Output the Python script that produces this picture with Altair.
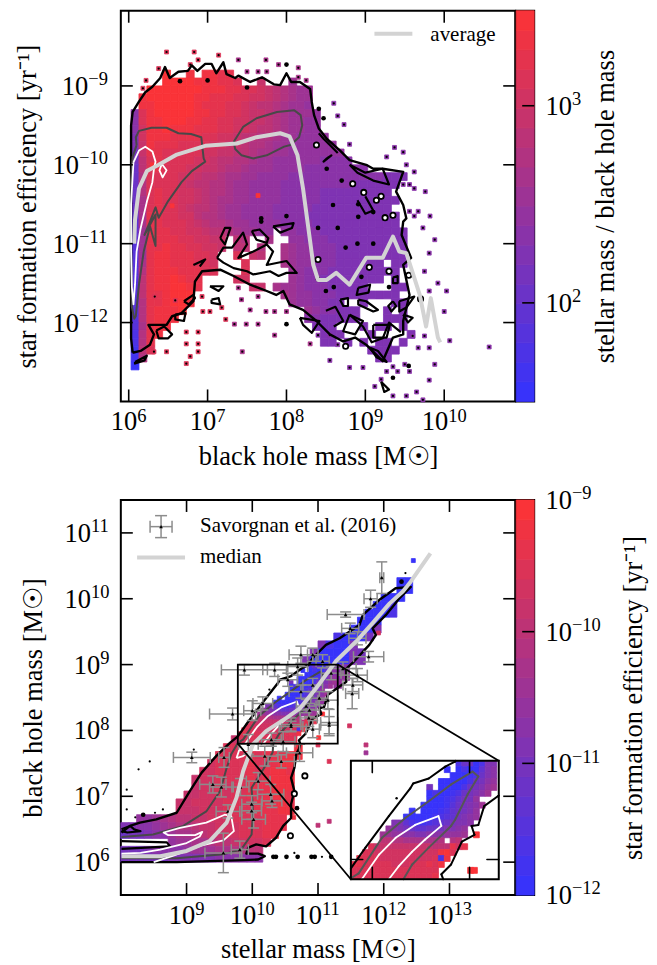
import altair as alt
import pandas as pd

alt.data_transformers.disable_max_rows()

FONT = "Liberation Serif"
LEV = "abcdefghijklmnopqrst"

# ---------- panel 1: cells, one string per row, x origin 6.03, step 0.1 dex, rows from -8.7 down
SFE_ROWS = [
 "",
 "....t..s.ssrr",
 "....ttttsssrrq..o...k",
 "..tttttttsssrrqqponmlkk",
 ".sttttttssrrrqqpponmlkk",
 ".sstttttsrrrqqponnmlkkj",
 "iqstttttssrrqqpoonmlkkkj",
 "iqsstttssrrqqppoonmlkkjj",
 "ipsstsssrrrqqpponnmlkkjj",
 "hpsssrrrrqqpponnmmlkkjjjj",
 "hosrrrqqqqppoonmmlkkjjjjjj",
 "gorrqqqqqppoonnmllkkjjjjjjj",
 "gnqrqqqqpponnmmlkkjjjjjjiiii",
 "fnqrqqqppoonmmlkkkjjjjiiiiiiii",
 "fmqqqqpponnmllkkjjjjiiiiiiiiiiiihhh",
 "fmqqqqponnmmlkkjjjjiiiiiiiiihhhhhh",
 "fmqrqqpponmmlkkjjjjiiiiihhhhhhhhh",
 "flqrqqpponmllkkjjjjiiiiihhhhhhhhhh",
 "flqrqqponnmlkkjjjjiiiiihhhhhhhhhh",
 "elrrqqppnmmlkkjjjjiiiihhhhhhhhhhhh",
 "elrrqqqponmmlkkjjjjiiiihhhhhhhhhhh",
 "ekrrrqqpponnmlkkjj.jjiiihhhhhhhhhhh",
 "ekrrrrqqppoo.nm..l..jjiiihhhhhhhhhh",
 "dkrrsrrqqppo.nn.m..lkjjiiihhhhhhhhh",
 "dkrssrrrqqp..q.on..lkjjiiihhhhhhhhh",
 "dlrssrrrqqp...q....lkjjiiihhhhhh.hh",
 "dmrsssrrrqq...q.....kjiiihhhhhhhhh",
 "dnrsstsrr....pp.....kjiihhhhhhhh.h",
 "dnrssttsr......oo.lkkjiiihhhhh...hh",
 "dnrrsttt...........lkjjiiihhhhhhhh",
 "dmrrstts............kjjiihh..h...hh",
 "dmrssst...............kjiihhh...h.h",
 "dmrsss................iihhhhh...hhh",
 "dlrss..................hhh...h.hh.h",
 "cmrs....................hhh...h....h",
 "cmr.....................hh.h.h.hh.h",
 "bnq...........................hhhh",
 "bm.............................hh",
 "a",
]
# black contour of the populated region, (log M_BH, log SFE)
P1_OUTER = [(6.05,-12.38),(6.03,-12.2),(6.03,-11.5),(6.03,-10.5),(6.03,-9.75),(6.03,-9.5),(6.05,-9.33),(6.13,-9.2),(6.21,-9.08),(6.3,-9.01),(6.4,-8.9),(6.46,-8.76),(6.52,-8.9),(6.63,-8.82),(6.75,-8.81),(6.8,-8.74),(6.87,-8.81),(6.97,-8.72),(7.05,-8.72),(7.11,-8.84),(7.2,-8.7),(7.24,-8.85),(7.35,-8.9),(7.39,-8.87),(7.54,-8.95),(7.69,-8.89),(7.84,-8.98),(7.92,-8.99),(8.0,-8.84),(8.06,-8.95),(8.17,-8.95),(8.3,-9.04),(8.32,-9.2),(8.35,-9.37),(8.41,-9.54),(8.51,-9.67),(8.68,-9.82),(8.8,-9.94),(9.01,-10.0),(9.1,-10.05),(9.22,-10.05),(9.48,-10.09),(9.39,-10.34),(9.48,-10.51),(9.52,-10.68),(9.48,-10.72),(9.46,-10.89),(9.58,-11.18),(9.48,-11.27),(9.56,-11.65),(9.48,-11.98),(9.48,-12.15),(9.35,-12.19),(9.22,-12.49),(9.01,-12.28),(8.87,-12.19),(8.72,-12.24),(8.55,-12.15),(8.38,-11.98),(8.21,-11.84),(8.04,-11.77),(7.96,-11.6),(7.87,-11.65),(7.75,-11.6),(7.54,-11.52),(7.33,-11.41),(7.16,-11.33),(6.93,-11.35),(6.84,-11.48),(6.82,-11.73),(6.67,-11.88),(6.55,-11.92),(6.48,-12.03),(6.25,-12.03),(6.32,-12.15),(6.27,-12.28),(6.15,-12.36),(6.06,-12.38),(6.05,-12.38)]
P1_HOLES = [
 [(7.16,-10.93),(7.22,-10.8),(7.29,-10.8),(7.26,-10.89),(7.22,-11.01),(7.16,-10.93)],
 [(7.12,-11.18),(7.2,-11.05),(7.31,-11.05),(7.45,-10.86),(7.5,-11.01),(7.39,-11.18),(7.58,-11.1),(7.75,-11.01),(7.83,-11.1),(7.75,-11.27),(8.0,-11.22),(8.13,-11.37),(8.0,-11.37),(7.9,-11.41),(7.79,-11.35),(7.58,-11.39),(7.5,-11.35),(7.33,-11.31),(7.2,-11.24),(7.12,-11.18)],
 [(7.56,-10.84),(7.66,-10.82),(7.77,-10.93),(7.75,-10.99),(7.62,-10.95),(7.56,-10.84)],
 [(7.83,-10.78),(8.09,-10.74),(8.07,-10.8),(7.92,-10.86),(7.83,-10.78)],
 [(6.35,-12.1),(6.45,-12.05),(6.55,-12.15),(6.5,-12.2),(6.38,-12.2),(6.35,-12.1)],
 [(6.08,-12.5),(6.23,-12.42),(6.2,-12.48),(6.08,-12.52),(6.08,-12.5)],
 [(6.7,-11.73),(6.82,-11.65),(6.84,-11.69),(6.76,-11.77),(6.7,-11.73)],
 [(6.82,-11.27),(6.97,-11.2),(6.9,-11.29)],
 [(7.03,-11.54),(7.2,-11.54),(7.14,-11.6),(7.03,-11.54)],
 [(7.05,-11.71),(7.14,-11.69),(7.16,-11.77),(7.05,-11.75),(7.05,-11.71)],
 [(6.59,-11.9),(6.72,-11.88),(6.7,-11.98),(6.59,-11.96),(6.59,-11.9)],
 [(8.91,-11.56),(9.06,-11.52),(9.04,-11.62),(8.89,-11.65),(8.91,-11.56)],
 [(8.91,-11.71),(9.01,-11.73),(9.16,-11.84),(9.1,-11.86),(8.91,-11.77),(8.91,-11.71)],
 [(8.68,-11.71),(8.78,-11.69),(8.78,-11.79),(8.72,-11.79),(8.68,-11.71)],
 [(8.8,-11.9),(8.97,-11.98),(8.87,-12.15),(8.72,-12.11),(8.8,-11.9)],
 [(9.1,-12.03),(9.31,-12.03),(9.27,-12.19),(9.1,-12.19),(9.1,-12.03)],
 [(9.43,-11.73),(9.62,-11.67),(9.52,-11.81),(9.43,-11.86),(9.43,-11.73)],
 [(9.48,-11.9),(9.6,-11.94),(9.54,-12.0),(9.48,-11.9)],
 [(9.35,-11.43),(9.41,-11.41),(9.41,-11.5),(9.35,-11.5),(9.35,-11.43)],
 [(8.17,-11.94),(8.42,-11.98),(8.32,-12.13),(8.21,-12.03),(8.17,-11.94)],
 [(9.35,-11.73),(9.39,-11.79),(9.33,-11.86),(9.29,-11.79),(9.35,-11.73)],
 [(8.51,-9.92),(8.57,-9.88),(8.47,-9.96),(8.51,-9.92)],
 [(8.8,-10.0),(9.0,-10.1),(9.22,-10.05),(9.3,-10.25),(9.1,-10.2),(8.9,-10.1),(8.8,-10.0)],
 [(8.8,-11.9),(8.97,-12.05),(9.08,-12.25),(9.22,-12.2),(9.3,-12.0),(9.45,-12.12)],
 [(8.5,-11.85),(8.62,-11.8),(8.72,-11.98),(8.6,-12.05)],
 [(9.06,-12.32),(9.16,-12.36),(9.27,-12.5),(9.14,-12.44),(9.06,-12.32)],
 [(8.41,-9.6),(8.47,-9.67),(8.55,-9.75),(8.65,-9.85)],
 [(8.9,-10.45),(9.0,-10.62),(9.1,-10.58),(9.0,-10.4)],
 [(9.2,-12.75),(9.3,-12.85),(9.24,-12.88),(9.2,-12.75)],
]
P1_RINGS = [(8.38,-9.75),(8.84,-10.24),(9.35,-10.64),(9.25,-10.67),(9.14,-10.45),(9.2,-10.4),(8.98,-10.35),(9.05,-11.3),(9.3,-11.35),(9.55,-11.4),(9.7,-11.7),(8.4,-11.2),(8.75,-12.3)]
P1_DARK = [[(6.1,-9.75),(6.09,-9.65),(6.13,-9.57),(6.29,-9.53),(6.48,-9.53),(6.63,-9.6),(6.79,-9.61),(6.92,-9.65),(6.95,-9.92),(6.97,-9.96),(6.8,-10.08),(6.67,-10.22),(6.5,-10.46),(6.38,-10.67),(6.34,-10.54),(6.27,-10.72),(6.2,-10.89),(6.34,-10.63),(6.34,-11.03),(6.27,-10.78),(6.19,-11.1),(6.13,-11.52),(6.09,-11.92),(6.07,-11.95),(6.04,-11.8),(6.03,-11.0),(6.03,-10.2),(6.05,-9.9),(6.1,-9.75)],
 [(7.33,-9.71),(7.45,-9.52),(7.62,-9.41),(7.88,-9.33),(8.1,-9.31),(8.18,-9.37),(8.2,-9.5),(8.16,-9.65),(8.05,-9.75),(7.97,-9.77),(7.75,-9.88),(7.58,-9.92),(7.43,-9.88),(7.35,-9.8),(7.33,-9.71)]]
P1_WHITE = [[(6.06,-9.97),(6.13,-9.82),(6.21,-9.77),(6.3,-9.83),(6.34,-9.96),(6.32,-10.05),(6.3,-10.22),(6.23,-10.47),(6.15,-10.81),(6.1,-11.1),(6.08,-11.52),(6.06,-11.77),(6.04,-11.55),(6.03,-11.08),(6.03,-10.5),(6.06,-9.97)],
 [(6.42,-9.99),(6.48,-10.07),(6.43,-10.16),(6.39,-10.07),(6.42,-9.99)]]
P1_AVG_X = [6.07,6.08,6.13,6.23,6.38,6.61,6.97,7.37,7.62,7.92,8.04,8.14,8.21,8.3,8.34,8.4,8.51,8.63,8.8,9.01,9.22,9.35,9.43,9.52,9.69,9.77,9.83,9.92,9.95]
P1_AVG_Y = [-11.0,-10.7,-10.3,-10.08,-10.0,-9.87,-9.76,-9.73,-9.65,-9.6,-9.64,-9.88,-10.3,-10.97,-11.27,-11.46,-11.46,-11.37,-11.52,-11.18,-11.18,-10.91,-11.1,-11.12,-11.65,-12.05,-11.69,-12.19,-12.25]
P1_DOTS_RED = [(6.33,-11.67),(6.59,-11.72),(6.73,-12.12),(6.88,-12.12),(6.73,-12.27),(6.88,-12.27),(6.78,-12.43),(6.88,-12.37),(6.73,-12.52),(6.48,-12.37),(6.32,-12.37),(6.93,-11.67),(7.03,-11.86),(6.94,-11.86),(7.18,-11.81),(7.23,-11.96),(6.48,-8.57),(6.83,-8.57),(7.14,-8.61),(6.88,-8.67),(6.38,-8.78),(6.78,-8.73),(6.22,-8.93),(6.18,-9.03)]
P1_DOTS_MID = [(7.34,-12.02),(7.49,-12.02),(7.64,-12.02),(7.44,-12.37),(7.85,-12.16),(7.74,-11.86),(7.85,-11.86),(8.0,-11.86),(7.54,-11.84),(7.43,-11.71),(7.39,-11.56),(7.64,-11.67),(8.3,-12.27),(7.39,-8.67),(7.74,-8.67),(7.9,-8.73),(8.15,-8.77),(7.5,-8.82),(7.64,-8.82),(7.75,-8.82),(8.25,-8.93),(8.15,-8.89)]
P1_DOTS_BLUE = [(8.4,-12.16),(8.55,-12.16),(8.65,-12.28),(8.55,-12.48),(8.8,-12.57),(8.97,-12.57),(9.27,-12.62),(9.35,-12.56),(9.41,-12.62),(9.56,-12.62),(9.5,-12.53),(9.35,-12.93),(9.52,-12.93),(9.65,-12.88),(9.12,-12.81),(9.2,-12.72),(9.73,-12.98),(9.81,-12.73),(9.88,-12.53),(9.67,-12.32),(9.81,-12.32),(9.75,-12.17),(9.6,-12.17),(9.88,-10.95),(9.73,-10.8),(9.82,-10.65),(9.67,-10.59),(9.56,-10.59),(9.62,-10.65),(9.81,-11.12),(9.75,-11.35),(9.81,-11.6),(9.92,-11.5),(10.57,-12.31),(10.0,-11.86),(10.07,-12.23),(10.03,-11.6),(8.6,-9.22),(8.65,-9.38),(8.73,-9.49),(8.8,-9.74),(9.37,-9.78),(9.48,-9.84),(9.27,-9.9),(9.52,-10.0),(9.62,-10.09),(9.48,-10.25),(9.56,-10.25),(9.62,-10.3),(9.76,-10.34)]
P1_BLOBS = [(8.0,-8.73),(8.47,-9.41),(8.41,-9.29),(8.7,-10.2),(8.51,-10.05),(8.59,-10.51),(8.91,-10.5),(9.1,-10.6),(8.91,-10.66),(8.65,-10.8),(8.4,-10.8),(6.65,-8.94),(7.0,-8.93),(7.5,-9.02),(7.68,-10.68),(7.68,-10.72),(8.0,-10.65),(8.9,-11.0),(9.1,-11.0),(8.0,-12.02),(8.4,-11.45),(8.5,-11.6),(8.6,-11.55),(8.75,-11.05),(8.95,-11.42),(9.3,-11.55),(9.35,-12.7),(9.55,-12.55)]
P1_RED_CELLS = [(7.64,-10.39),(6.55,-10.52),(6.3,-10.0)]

# ---------- panel 2: coarse cells (row j = 6.00+0.12 j, start column, x step 0.12 from 8.0)
MS_ROWS = [
 (35,35,"aa"),(34,35,"aa"),(33,33,"aaa"),(32,32,"aac"),(31,31,"aaac"),(30,30,"aaa"),(29,29,"aaah"),
 (28,27,"caaag"),(27,25,"hcaah"),(26,24,"haaaahg"),(25,23,"haaaaahh"),
 (24,27,"ii"),(23,27,"ij"),(22,27,"j"),(15,14,"o"),
 (14,13,"qq"),(14,22,"s"),(13,12,"qqqqrqrrrss"),(12,11,"pqqqqrqqrss"),(11,10,"ppqqqqrqrssr"),
 (10,9,"oppqqqqrqrsss"),(9,9,"oppqpqqrrrsss"),(8,8,"ooppqpqqrqrssr"),(7,7,"ooppppqqqqrrrsr"),
 (6,7,"ooopppqqqqrrrss"),(5,2,"jjklmnnoopppqqqqrrr"),(4,0,"hhiijklmmnoopppqqqrrr"),
 (3,0,"fgghiikllmnooppqqqrr"),(2,6,"jkkllmnnopppq"),(1,0,"ggghiiiijkkkllmmnn"),(0,0,"gggggghhhhhhiiiiii"),
]
# fine cells of the zoomed box (x from 9.78, y from 9.0 down, step 0.06)
ZOOM_ROWS = [
 "..................cffachh",
 "................a.acaaehi",
 ".................aaabcfhi",
 "...............aaaaacfgij",
 ".............g.aaaacfghjk",
 ".............acaabcfghik",
 ".............aaabceggj",
 "............aaaabdfghik",
 "..........a.aaabcefghj",
 ".........aaaaabcdeghij",
 ".......hhecbbcdefghhi",
 "......jihgfeeffghhij",
 ".....kkjjiihhiiijjjk.t",
 ".....nnmmllllllm.mn",
 "...qoooooooooonnnrpr",
 "..qqpppppppppppstq",
 ".rqqqpppppppppqcs",
 "rrqqqqqpppqqqrqs",
 "qqqqqqqqqqqqqqq.....t",
 "qqqqqqqqqqqqqqr",
]
P2_OUTER = [(8.01,6.0),(8.85,6.0),(9.86,6.03),(10.09,6.04),(10.19,6.09),(10.09,6.13),(9.91,6.13),(9.94,6.22),(10.06,6.27),(10.21,6.24),(10.36,6.37),(10.47,6.55),(10.59,6.67),(10.59,6.88),(10.64,7.08),(10.59,7.28),(10.64,7.43),(10.67,7.64),(10.71,7.72),(10.73,7.8),(10.71,7.85),(10.81,7.95),(10.92,8.18),(11.05,8.25),(11.02,8.34),(11.09,8.35),(11.15,8.54),(11.29,8.64),(11.43,8.74),(11.43,8.94),(11.55,9.05),(11.78,9.3),(11.88,9.45),(11.83,9.55),(12.03,9.75),(12.16,9.91),(12.24,10.01),(12.41,10.18),(12.18,10.16),(11.93,9.98),(11.68,9.75),(11.63,9.6),(11.33,9.4),(11.12,9.3),(10.92,9.1),(10.85,8.99),(10.75,8.94),(10.58,8.82),(10.42,8.77),(10.39,8.72),(10.17,8.44),(9.93,8.12),(9.78,7.91),(9.66,7.81),(9.45,7.61),(9.23,7.36),(9.05,7.08),(8.85,6.75),(8.54,6.65),(8.29,6.6),(8.14,6.55),(8.01,6.45)]
P2_GAP = [[(8.01,6.32),(8.7,6.3),(8.75,6.24),(8.01,6.2)],[(8.01,6.5),(8.14,6.55),(8.2,6.5),(8.3,6.47),(8.1,6.45),(8.01,6.47)]]
P2_DARK = [[(8.01,6.38),(8.49,6.42),(8.95,6.55),(9.3,6.77),(9.51,7.08),(9.61,7.43),(9.68,7.64),(9.78,7.81),(9.86,7.86),(10.1,8.22),(10.34,8.42),(10.58,8.59),(10.81,8.76),(11.03,8.89),(11.09,8.84),(10.98,8.66),(10.85,8.4),(10.81,8.34),(10.58,8.12),(10.41,7.95),(10.32,7.8),(10.31,7.67),(10.21,7.48),(9.99,7.13),(10.01,6.77),(9.99,6.42),(9.83,6.19),(9.56,6.12),(8.85,6.06),(8.01,6.06)]]
P2_WHITE = [[(9.76,7.58),(9.8,7.7),(9.9,7.81),(10.07,8.05),(10.24,8.22),(10.44,8.35),(10.68,8.44),(10.71,8.34),(10.54,8.2),(10.41,8.08),(10.27,7.93),(10.17,7.8),(10.0,7.72),(9.86,7.61),(9.76,7.58)],
 [(8.5,6.0),(8.8,6.1),(9.0,6.17),(9.25,6.26),(9.56,6.33),(9.72,6.47),(9.68,6.7),(9.58,6.72),(9.3,6.6),(8.9,6.52),(8.65,6.45),(8.72,6.41),(9.13,6.41),(9.24,6.46),(9.2,6.39),(9.0,6.29),(8.6,6.19),(8.3,6.14),(8.01,6.13)]]
P2_MED_X = [8.01,8.6,9.0,9.35,9.61,9.76,9.86,10.01,10.21,10.52,10.72,10.97,11.27,11.58,11.83,12.09,12.29,12.41,12.71]
P2_MED_Y = [6.09,6.09,6.17,6.32,6.6,6.98,7.38,7.79,7.99,8.19,8.33,8.64,9.05,9.35,9.63,9.93,10.11,10.26,10.69]
P2_DOTS = [(8.09,7.1),(8.09,6.8),(8.27,7.41),(8.44,7.53),(9.11,7.71),(8.22,6.68),(8.52,6.75),(8.64,6.8),(10.64,6.14),(11.06,6.08),(12.33,10.39),(10.26,8.62)]
P2_BLOBS = [(8.34,6.72),(10.36,6.08),(10.32,6.08),(10.52,6.08),(10.69,6.08),(10.9,6.08),(10.95,6.08),(11.2,6.08),(10.68,6.82),(12.27,10.26),(12.35,10.18)]
P2_CELLS = [(11.48,8.07,"p"),(11.92,9.48,"p"),(12.45,10.58,"a"),(11.73,7.78,"n"),(11.73,7.66,"k"),(11.17,7.53,"q"),(11.0,7.78,"q"),(11.0,6.56,"n"),(11.17,6.62,"n"),(10.63,6.68,"s")]
P2_RINGS = [(10.64,7.04),(10.8,7.31),(10.58,6.4)]
# Savorgnan et al. (2016): log M*, log MBH, x error, y error (dex)
SAV_X = [11.97,11.8,11.42,11.49,11.6,11.77,10.74,10.92,9.88,10.34,10.69,10.54,11.38,11.6,11.53,11.52,11.2,11.07,9.7,10.0,10.16,10.74,10.92,10.87,11.02,11.15,11.17,10.59,9.08,9.57,9.4,9.53,9.63,9.82,10.09,10.28,10.3,9.99,9.99,10.02,10.44,10.19,9.94,10.29,10.47,10.59,10.82,10.86,10.92,11.17,9.56,9.81,10.72]
SAV_Y = [10.32,10.0,9.76,9.55,9.4,9.12,9.15,9.15,8.92,8.92,8.97,8.77,8.94,8.84,8.69,8.56,8.87,9.05,8.25,8.3,8.41,8.59,8.69,8.31,8.49,8.46,8.08,8.06,7.59,7.59,7.18,7.14,6.77,7.14,7.23,7.03,6.93,6.88,6.78,6.65,7.53,7.61,7.79,7.86,7.83,8.09,8.37,8.19,8.02,8.12,6.14,6.19,7.66]
SAV_XE = [.03,.1,.28,.13,.13,.23,.18,.08,.35,.18,.15,.15,.2,.15,.15,.1,.15,.1,.35,.13,.15,.18,.15,.15,.13,.15,.13,.18,.28,.08,.2,.18,.18,.13,.18,.2,.15,.15,.15,.18,.2,.2,.15,.15,.18,.15,.15,.13,.1,.13,.28,.13,.2]
SAV_YE = [.24,.13,.04,.08,.1,.08,.13,.1,.08,.1,.13,.1,.1,.1,.1,.23,.1,.1,.09,.15,.1,.1,.1,.1,.1,.13,.13,.08,.08,.15,.13,.15,.1,.13,.13,.15,.1,.13,.13,.13,.1,.15,.15,.1,.15,.1,.1,.13,.13,.2,.3,.13,.13]

XT1 = [6,7,8,9,10]; YT1 = [-12,-11,-10,-9]
XT2 = [9,10,11,12,13]; YT2 = [6,7,8,9,10,11]
CB1_TICKS = [2,3]
CB2_TICKS = [-12,-11,-10,-9]
LGREY = "#d3d3d3"; DGREY = "#484848"; EB = "#8c8c8c"
W = 395; H1 = 391.3; H2 = 395.7; CBW = 18; TICK = 12; FS = 26.5; EFS = 18.5; LFS = 21
DIG = 9.25; MINUS = 12

def lv(c, lo, step):
    return 10 ** (lo + (LEV.index(c) + .5) * step)

def mk_axis(vals, title, **kw):
    return alt.Axis(values=[10.0 ** v for v in vals], labels=False, title=title,
                    ticks=False, domain=False, grid=False,
                    titleFont=FONT, titleFontSize=FS, titleFontWeight="normal", titleColor="black",
                    titleBaseline="alphabetic", **kw)

# every layer of a panel carries the same axis (a null axis in one layer drops it for all)
AXES = {}
def sx(field, s): return alt.X(field, scale=s, axis=AXES[id(s)])
def sy(field, s): return alt.Y(field, scale=s, axis=AXES[id(s)])

def exp_str(v):
    return ("\u2212" if v < 0 else "") + str(abs(v))
def exp_w(v):
    return len(str(abs(v))) * DIG + (MINUS if v < 0 else 0)

def x_labels(vals, xs, h):
    out = []
    for v in vals:
        x0 = -(FS + exp_w(v)) / 2
        d = pd.DataFrame({"v": [10.0 ** v], "t": ["10"], "e": [exp_str(v)]})
        out.append(alt.Chart(d).mark_text(align="left", baseline="alphabetic", font=FONT, fontSize=FS, color="black", dx=x0).encode(
            x=sx("v:Q", xs), y=alt.value(h + 28.7), text="t:N"))
        out.append(alt.Chart(d).mark_text(align="left", baseline="alphabetic", font=FONT, fontSize=EFS, color="black", dx=x0 + FS).encode(
            x=sx("v:Q", xs), y=alt.value(h + 20.4), text="e:N"))
    return out

def y_labels(vals, ys, start=None):
    out = []
    for v in vals:
        x0 = start if start is not None else -11.4 - (FS + exp_w(v))
        d = pd.DataFrame({"v": [10.0 ** v], "t": ["10"], "e": [exp_str(v)]})
        out.append(alt.Chart(d).mark_text(align="left", baseline="alphabetic", font=FONT, fontSize=FS, color="black", dy=9).encode(
            y=sy("v:Q", ys), x=alt.value(x0), text="t:N"))
        out.append(alt.Chart(d).mark_text(align="left", baseline="alphabetic", font=FONT, fontSize=EFS, color="black", dy=-0.8).encode(
            y=sy("v:Q", ys), x=alt.value(x0 + FS), text="e:N"))
    return out

def cells_df(items):
    return pd.DataFrame([{"x0": 10 ** a, "x1": 10 ** b, "y0": 10 ** c, "y1": 10 ** d, "v": v} for a, b, c, d, v in items])

def lines_df(polys):
    return pd.DataFrame([{"x": 10 ** x, "y": 10 ** y, "id": k, "i": i} for k, p in enumerate(polys) for i, (x, y) in enumerate(p)])

def pts_df(pts):
    return pd.DataFrame({"x": [10 ** p[0] for p in pts], "y": [10 ** p[1] for p in pts]})

def cell_layer(df, xs, ys, cs):
    return alt.Chart(df).mark_rect(strokeWidth=0.8).encode(
        x=sx("x0:Q", xs), x2="x1:Q", y=sy("y0:Q", ys), y2="y1:Q",
        color=alt.Color("v:Q", scale=cs, legend=None),
        stroke=alt.Stroke("v:Q", scale=cs, legend=None))

def line_layer(polys, color, sw, xs, ys):
    return alt.Chart(lines_df(polys)).mark_line(color=color, strokeWidth=sw, strokeJoin="round", clip=True).encode(
        x=sx("x:Q", xs), y=sy("y:Q", ys), detail="id:N", order="i:Q")

def pt_layer(pts, size, xs, ys, filled=True, shape="circle", color="black", **kw):
    return alt.Chart(pts_df(pts)).mark_point(filled=filled, shape=shape, size=size, color=color, opacity=1, **kw).encode(
        x=sx("x:Q", xs), y=sy("y:Q", ys))

def tick_layers(xt, yt, xs, ys, w, h):
    xd = pd.DataFrame({"v": [10.0 ** v for v in xt]}); yd = pd.DataFrame({"v": [10.0 ** v for v in yt]})
    out = []
    for a, b in ((0, TICK), (h, h - TICK)):
        out.append(alt.Chart(xd).mark_rule(color="black", strokeWidth=1.6).encode(
            x=sx("v:Q", xs), y=alt.value(a), y2=alt.value(b)))
    for a, b in ((0, TICK), (w, w - TICK)):
        out.append(alt.Chart(yd).mark_rule(color="black", strokeWidth=1.6).encode(
            y=sy("v:Q", ys), x=alt.value(a), x2=alt.value(b)))
    return out

def label(text, x, y):
    return alt.Chart(pd.DataFrame({"t": [text]})).mark_text(align="left", baseline="middle", font=FONT, fontSize=LFS, color="black").encode(
        x=alt.value(x), y=alt.value(y), text="t:N")

def vrule(color, sw, x, x2, y, y2):
    return alt.Chart(pd.DataFrame({"a": [0]})).mark_rule(color=color, strokeWidth=sw).encode(
        x=alt.value(x), x2=alt.value(x2), y=alt.value(y), y2=alt.value(y2))

def colorbar(lo, hi, vals, title, cs, h, title_x):
    step = (hi - lo) / 20
    ys = alt.Scale(type="log", domain=[10 ** lo, 10 ** hi], nice=False)
    AXES[id(ys)] = mk_axis(vals, title, orient="right", titleAngle=270, titleX=title_x)
    df = pd.DataFrame([{"y0": 10 ** (lo + i * step), "y1": 10 ** (lo + (i + 1) * step), "v": 10 ** (lo + (i + .5) * step)} for i in range(20)])
    bars = alt.Chart(df).mark_rect(strokeWidth=0.8).encode(
        x=alt.value(0), x2=alt.value(CBW),
        y=sy("y0:Q", ys), y2="y1:Q",
        color=alt.Color("v:Q", scale=cs, legend=None), stroke=alt.Stroke("v:Q", scale=cs, legend=None))
    tk = alt.Chart(pd.DataFrame({"v": [10.0 ** v for v in vals if lo < v < hi]})).mark_rule(color="black", strokeWidth=1.6).encode(
        y=sy("v:Q", ys), x=alt.value(6), x2=alt.value(CBW))
    return alt.layer(bars, tk, *y_labels(vals, ys, start=29.3)).properties(width=CBW, height=h)

# ---------------- panel 1
xs1 = alt.Scale(type="log", domain=[10 ** 5.9, 10 ** 10.9], nice=False)
ys1 = alt.Scale(type="log", domain=[1e-13, 10 ** -8.047], nice=False)
cs1 = alt.Scale(type="log", domain=[10 ** 1.5, 10 ** 3.5], range=["#3333ff", "#ff3333"], interpolate="rgb")
AXES[id(xs1)] = mk_axis(XT1, "black hole mass [M☉]", titleY=62.7)
AXES[id(ys1)] = mk_axis(YT1, "star formation efficiency [yr⁻¹]", titleX=-85.7)
items = []
for k, row in enumerate(SFE_ROWS):
    top = -8.7 - .1 * k
    for i, c in enumerate(row):
        if c != ".":
            items.append((6.03 + .1 * i, 6.13 + .1 * i, top - .1, top, lv(c, 1.5, .1)))
for group, c in ((P1_DOTS_RED, "q"), (P1_DOTS_MID, "l"), (P1_DOTS_BLUE, "i"), (P1_RED_CELLS, "t")):
    for x, y in group:
        items.append((x - .025, x + .025, y - .025, y + .025, lv(c, 1.5, .1)))
layers1 = [cell_layer(cells_df(items), xs1, ys1, cs1),
           line_layer(P1_HOLES, "black", 2.2, xs1, ys1),
           line_layer([P1_OUTER], "black", 2.4, xs1, ys1),
           pt_layer(P1_DOTS_RED + P1_DOTS_MID + P1_DOTS_BLUE, 5, xs1, ys1),
           pt_layer(P1_BLOBS, 22, xs1, ys1),
           pt_layer(P1_RINGS, 28, xs1, ys1, filled=False, fill="white", strokeWidth=1.8),
           line_layer(P1_DARK, DGREY, 2, xs1, ys1),
           line_layer(P1_WHITE, "white", 1.8, xs1, ys1),
           line_layer([list(zip(P1_AVG_X, P1_AVG_Y))], LGREY, 4, xs1, ys1),
           vrule(LGREY, 4, 254, 292, 23, 23),
           label("average", 310, 24)] + tick_layers(XT1, YT1, xs1, ys1, W, H1) + x_labels(XT1, xs1, H1) + y_labels(YT1, ys1)
main1 = alt.layer(*layers1).properties(width=W, height=H1)
cb1 = colorbar(1.5, 3.482, CB1_TICKS, "stellar mass / black hole mass", cs1, H1, 79.3)

# ---------------- panel 2
xs2 = alt.Scale(type="log", domain=[1e8, 1e14], nice=False)
ys2 = alt.Scale(type="log", domain=[10 ** 5.5, 10 ** 11.5], nice=False)
cs2 = alt.Scale(type="log", domain=[1e-12, 1e-9], range=["#3333ff", "#ff3333"], interpolate="rgb")
AXES[id(xs2)] = mk_axis(XT2, "stellar mass [M☉]", titleY=62.7)
AXES[id(ys2)] = mk_axis(YT2, "black hole mass [M☉]", titleX=-79)
BOX = (9.78, 11.3, 7.8, 9.0)      # zoomed range in data units
INS = (11.5, 13.75, 5.74, 7.54)   # where the inset sits on the main axes
def ix(v): return INS[0] + (v - BOX[0]) * (INS[1] - INS[0]) / (BOX[1] - BOX[0])
def iy(v): return INS[2] + (v - BOX[2]) * (INS[3] - INS[2]) / (BOX[3] - BOX[2])

items2 = []
for j, st, row in MS_ROWS:
    for i, c in enumerate(row):
        if c != ".":
            items2.append((8 + .12 * (st + i), 8.12 + .12 * (st + i), 6 + .12 * j, 6.12 + .12 * j, lv(c, -12, .15)))
for x, y, c in P2_CELLS:
    items2.append((x - .03, x + .03, y - .03, y + .03, lv(c, -12, .15)))
fine = []
for r, row in enumerate(ZOOM_ROWS):
    top = 9.0 - .06 * r
    for i, c in enumerate(row):
        if c != ".":
            fine.append((9.78 + .06 * i, min(9.84 + .06 * i, 11.3), top - .06, top, lv(c, -12, .15)))
inset_cells = [(ix(a), ix(b), iy(c), iy(d), v) for a, b, c, d, v in fine]

def clip_segments(polys):
    rows = []
    for p in polys:
        for (x0, y0), (x1, y1) in zip(p[:-1], p[1:]):
            t0, t1 = 0.0, 1.0
            dx, dy = x1 - x0, y1 - y0
            ok = True
            for d, q in ((-dx, x0 - BOX[0]), (dx, BOX[1] - x0), (-dy, y0 - BOX[2]), (dy, BOX[3] - y0)):
                if d == 0:
                    if q < 0: ok = False
                else:
                    t = q / d
                    if d < 0: t0 = max(t0, t)
                    else: t1 = min(t1, t)
            if ok and t0 < t1:
                rows.append({"x": 10 ** ix(x0 + t0 * dx), "x2": 10 ** ix(x0 + t1 * dx),
                             "y": 10 ** iy(y0 + t0 * dy), "y2": 10 ** iy(y0 + t1 * dy)})
    return pd.DataFrame(rows)

def seg_layer(df, color, sw):
    return alt.Chart(df).mark_rule(color=color, strokeWidth=sw, strokeCap="round").encode(
        x=sx("x:Q", xs2), x2="x2:Q", y=sy("y:Q", ys2), y2="y2:Q")

sav = pd.DataFrame({"x": [10 ** v for v in SAV_X], "y": [10 ** v for v in SAV_Y],
                    "xl": [10 ** (a - b) for a, b in zip(SAV_X, SAV_XE)], "xh": [10 ** (a + b) for a, b in zip(SAV_X, SAV_XE)],
                    "yl": [10 ** (a - b) for a, b in zip(SAV_Y, SAV_YE)], "yh": [10 ** (a + b) for a, b in zip(SAV_Y, SAV_YE)]})
X_ = lambda f: sx(f, xs2)
Y_ = lambda f: sy(f, ys2)
EBW = 1.5
eb = [alt.Chart(sav).mark_rule(color=EB, strokeWidth=EBW).encode(x=X_("xl:Q"), x2="xh:Q", y=Y_("y:Q")),
      alt.Chart(sav).mark_rule(color=EB, strokeWidth=EBW).encode(y=Y_("yl:Q"), y2="yh:Q", x=X_("x:Q")),
      alt.Chart(sav).mark_tick(color=EB, size=11, thickness=EBW, orient="vertical", opacity=1).encode(x=X_("xl:Q"), y=Y_("y:Q")),
      alt.Chart(sav).mark_tick(color=EB, size=11, thickness=EBW, orient="vertical", opacity=1).encode(x=X_("xh:Q"), y=Y_("y:Q")),
      alt.Chart(sav).mark_tick(color=EB, size=11, thickness=EBW, orient="horizontal", opacity=1).encode(x=X_("x:Q"), y=Y_("yl:Q")),
      alt.Chart(sav).mark_tick(color=EB, size=11, thickness=EBW, orient="horizontal", opacity=1).encode(x=X_("x:Q"), y=Y_("yh:Q")),
      pt_layer(list(zip(SAV_X, SAV_Y)), 14, xs2, ys2, shape="triangle-up")]

frame = pd.DataFrame([{"x": 10 ** BOX[0], "x2": 10 ** BOX[1], "y": 10 ** BOX[2], "y2": 10 ** BOX[3]}])
inset_bg = pd.DataFrame([{"x": 10 ** INS[0], "x2": 10 ** INS[1], "y": 10 ** INS[2], "y2": 10 ** INS[3]}])
def rect_layer(df, **kw):
    return alt.Chart(df).mark_rect(**kw).encode(x=X_("x:Q"), x2="x2:Q", y=Y_("y:Q"), y2="y2:Q")
conn = pd.DataFrame([{"x": 10 ** BOX[1], "x2": 10 ** INS[1], "y": 10 ** BOX[3], "y2": 10 ** INS[3]},
                     {"x": 10 ** BOX[0], "x2": 10 ** INS[0], "y": 10 ** BOX[2], "y2": 10 ** INS[2]}])
in_ticks = []
for v in (10, 11):
    for a, b in ((INS[3], INS[3] - .18), (INS[2], INS[2] + .18)):
        in_ticks.append({"x": 10 ** ix(v), "x2": 10 ** ix(v), "y": 10 ** a, "y2": 10 ** b})
for a, b in ((INS[0], INS[0] + .18), (INS[1], INS[1] - .18)):
    in_ticks.append({"x": 10 ** a, "x2": 10 ** b, "y": 10 ** iy(8), "y2": 10 ** iy(8)})
in_ticks = pd.DataFrame(in_ticks)

inset_extra = [(ix(11.02), ix(11.08), iy(7.86), iy(7.92), lv("t", -12, .15))]
layers2 = [cell_layer(cells_df(items2), xs2, ys2, cs2),
           cell_layer(cells_df(fine), xs2, ys2, cs2),
           line_layer(P2_GAP, "black", 2.2, xs2, ys2),
           line_layer([P2_OUTER], "black", 2.4, xs2, ys2),
           pt_layer(P2_DOTS, 5, xs2, ys2), pt_layer(P2_BLOBS, 22, xs2, ys2),
           pt_layer(P2_RINGS, 28, xs2, ys2, filled=False, fill="white", strokeWidth=1.8),
           line_layer(P2_DARK, DGREY, 2, xs2, ys2),
           line_layer(P2_WHITE, "white", 1.8, xs2, ys2)] + eb + [
           line_layer([list(zip(P2_MED_X, P2_MED_Y))], LGREY, 4, xs2, ys2),
           rect_layer(frame, fillOpacity=0, stroke="black", strokeWidth=1.8),
           seg_layer(conn, "black", 1.8),
           rect_layer(inset_bg, fill="white"),
           cell_layer(cells_df(inset_cells + inset_extra), xs2, ys2, cs2),
           seg_layer(clip_segments([P2_OUTER + P2_OUTER[:1]]), "black", 2),
           seg_layer(clip_segments(P2_DARK), "#555555", 2),
           seg_layer(clip_segments(P2_WHITE), "white", 1.8),
           pt_layer([(ix(10.25), iy(8.62))], 6, xs2, ys2),
           seg_layer(in_ticks, "black", 1.6),
           rect_layer(inset_bg, fillOpacity=0, stroke="black", strokeWidth=2),
           # legend
           vrule(EB, EBW, 29.3, 51.3, 26.7, 26.7), vrule(EB, EBW, 40.3, 40.3, 15.7, 37.7),
           vrule(EB, EBW, 29.3, 29.3, 20.7, 32.7), vrule(EB, EBW, 51.3, 51.3, 20.7, 32.7),
           vrule(EB, EBW, 34.3, 46.3, 15.7, 15.7), vrule(EB, EBW, 34.3, 46.3, 37.7, 37.7),
           alt.Chart(pd.DataFrame({"a": [0]})).mark_point(filled=True, shape="triangle-up", size=14, color="black", opacity=1).encode(x=alt.value(40.3), y=alt.value(26.7)),
           vrule(LGREY, 4, 16.3, 64.3, 57.7, 57.7),
           label("Savorgnan et al. (2016)", 79.3, 25.7), label("median", 79.3, 57)] + tick_layers(XT2, YT2, xs2, ys2, W, H2) + x_labels(XT2, xs2, H2) + y_labels(YT2, ys2)
main2 = alt.layer(*layers2).properties(width=W, height=H2)
cb2 = colorbar(-12, -9, CB2_TICKS, "star formation efficiency [yr⁻¹]", cs2, H2, 107.7)

chart = alt.concat(main1, cb1, main2, cb2, columns=2, spacing={"row": 98, "column": 1}, bounds="flush").resolve_scale(
    color="independent", stroke="independent", x="independent", y="independent"
).properties(
    padding={"left": 5, "top": 0, "right": 0, "bottom": 0}
).configure_view(stroke="black", strokeWidth=2)

chart.save("out.html", embed_options={"renderer": "svg", "actions": False})
